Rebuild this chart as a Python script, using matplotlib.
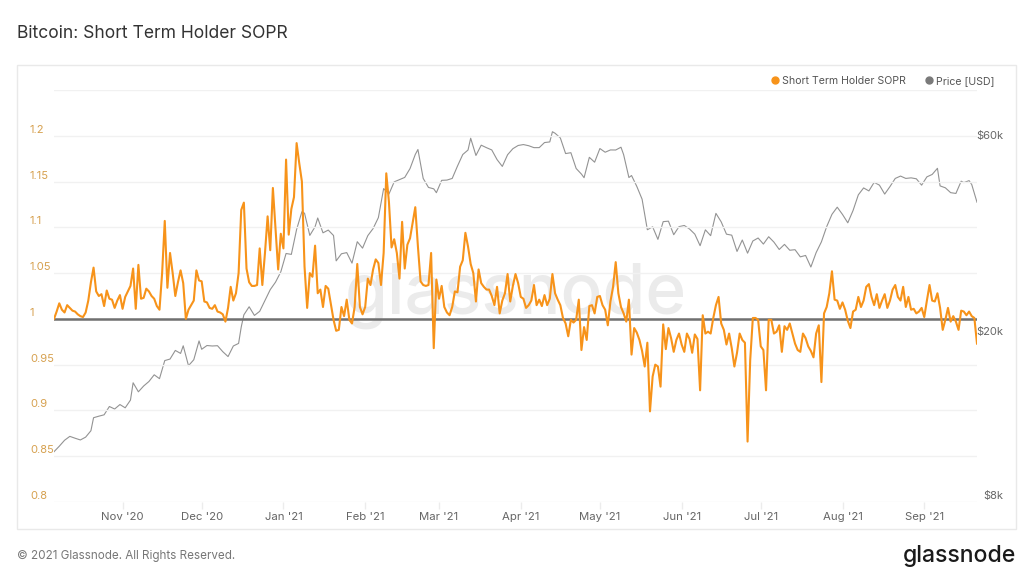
import matplotlib
matplotlib.use("Agg")
import matplotlib.pyplot as plt
import matplotlib.dates as mdates
import matplotlib.transforms as mtransforms
from matplotlib.lines import Line2D
from matplotlib.patches import Rectangle
from matplotlib.ticker import FixedLocator, NullLocator
import pandas as pd

plt.rcParams['font.family'] = ['Inter', 'DejaVu Sans']

# --- data -------------------------------------------------------------
sopr_start = '2020-10-06'
sopr = [
    1.000, 1.008, 1.017, 1.010, 1.007, 1.015, 1.012, 1.009, 1.008, 1.005,
    1.003, 1.002, 1.007, 1.020, 1.040, 1.056, 1.030, 1.025, 1.027, 1.014,
    1.031, 1.022, 1.021, 1.012, 1.020, 1.026, 1.011, 1.024, 1.030, 1.036,
    1.055, 1.011, 1.059, 1.022, 1.023, 1.033, 1.030, 1.025, 1.022, 1.014,
    1.010, 1.050, 1.107, 1.034, 1.072, 1.050, 1.025, 1.040, 1.053, 1.039,
    1.000, 1.010, 1.015, 1.020, 1.053, 1.042, 1.041, 1.019, 1.018, 1.012,
    1.011, 1.015, 1.008, 1.007, 1.005, 0.997, 1.012, 1.035, 1.020, 1.028,
    1.050, 1.119, 1.127, 1.055, 1.040, 1.036, 1.036, 1.037, 1.077, 1.037,
    1.072, 1.112, 1.075, 1.143, 1.098, 1.054, 1.093, 1.077, 1.174, 1.092,
    1.120, 1.133, 1.192, 1.170, 1.150, 1.057, 1.012, 1.050, 1.046, 1.080,
    1.028, 1.032, 1.013, 1.036, 1.033, 1.016, 0.999, 0.987, 0.988, 1.013,
    1.003, 1.021, 0.999, 0.995, 1.013, 1.060, 1.013, 1.005, 1.013, 1.044,
    1.037, 1.054, 1.065, 1.061, 1.037, 1.072, 1.159, 1.128, 1.078, 1.087,
    1.072, 1.044, 1.106, 1.055, 1.081, 1.088, 1.105, 1.122, 1.079, 1.041,
    1.037, 1.036, 1.037, 1.072, 0.968, 1.043, 1.022, 1.036, 1.013, 1.007,
    1.004, 1.013, 1.030, 1.029, 1.057, 1.064, 1.094, 1.079, 1.060, 1.050,
    1.019, 1.054, 1.039, 1.035, 1.032, 1.032, 1.025, 1.015, 1.035, 1.006,
    1.020, 1.028, 1.049, 1.019, 1.036, 1.049, 1.039, 1.024, 1.022, 1.012,
    1.015, 1.020, 1.037, 1.015, 1.021, 1.014, 1.026, 1.015, 1.022, 1.049,
    1.028, 1.021, 1.015, 1.001, 0.995, 0.981, 0.999, 0.996, 0.999, 1.021,
    0.966, 0.991, 0.977, 1.014, 1.015, 1.006, 1.024, 1.025, 1.015, 1.010,
    0.993, 1.019, 1.035, 1.062, 1.028, 1.013, 1.006, 0.997, 1.021, 0.961,
    0.990, 0.985, 0.977, 0.965, 0.948, 0.974, 0.899, 0.937, 0.950, 0.948,
    0.926, 0.994, 0.967, 0.990, 0.979, 0.964, 0.977, 0.984, 0.972, 0.964,
    0.984, 0.978, 0.963, 0.983, 0.978, 0.922, 1.004, 0.984, 0.986, 0.984,
    1.001, 1.015, 1.024, 0.995, 0.988, 0.972, 0.984, 0.968, 0.948, 0.963,
    0.984, 0.977, 0.974, 0.866, 0.955, 1.001, 1.001, 0.999, 0.970, 0.966,
    0.922, 0.999, 0.999, 0.984, 0.986, 0.993, 0.964, 0.992, 0.988, 0.995,
    0.984, 0.973, 0.966, 0.964, 0.984, 0.979, 0.970, 0.965, 0.958, 0.984,
    0.993, 0.931, 1.006, 1.013, 1.028, 1.052, 1.021, 1.020, 1.011, 1.018,
    1.010, 0.998, 0.990, 1.008, 1.010, 1.024, 1.013, 1.020, 1.035, 1.038,
    1.024, 1.015, 1.027, 1.012, 1.020, 1.027, 1.012, 1.020, 1.032, 1.037,
    1.024, 1.020, 1.035, 1.013, 1.024, 1.010, 1.011, 1.006, 1.008, 1.012,
    1.002, 1.020, 1.037, 1.020, 1.019, 1.028, 1.012, 0.988, 0.999, 1.012,
    0.997, 1.003, 0.997, 0.988, 1.009, 1.008, 1.004, 1.008, 1.003, 1.001,
    0.973,
]

price_dates = [
    '2020-10-06', '2020-10-08', '2020-10-10', '2020-10-12', '2020-10-14',
    '2020-10-16', '2020-10-18', '2020-10-20', '2020-10-21', '2020-10-23',
    '2020-10-25', '2020-10-27', '2020-10-29', '2020-10-31', '2020-11-02',
    '2020-11-04', '2020-11-05', '2020-11-07', '2020-11-09', '2020-11-11',
    '2020-11-13', '2020-11-15', '2020-11-17', '2020-11-19', '2020-11-21',
    '2020-11-23', '2020-11-24', '2020-11-26', '2020-11-28', '2020-11-30',
    '2020-12-01', '2020-12-03', '2020-12-05', '2020-12-07', '2020-12-09',
    '2020-12-11', '2020-12-13', '2020-12-15', '2020-12-16', '2020-12-17',
    '2020-12-19', '2020-12-21', '2020-12-23', '2020-12-25', '2020-12-27',
    '2020-12-29', '2020-12-31', '2021-01-02', '2021-01-04', '2021-01-06',
    '2021-01-08', '2021-01-09', '2021-01-11', '2021-01-13', '2021-01-14',
    '2021-01-16', '2021-01-18', '2021-01-20', '2021-01-21', '2021-01-23',
    '2021-01-25', '2021-01-27', '2021-01-29', '2021-01-31', '2021-02-02',
    '2021-02-04', '2021-02-06', '2021-02-08', '2021-02-10', '2021-02-12',
    '2021-02-14', '2021-02-16', '2021-02-18', '2021-02-20', '2021-02-21',
    '2021-02-23', '2021-02-25', '2021-02-27', '2021-02-28', '2021-03-02',
    '2021-03-04', '2021-03-06', '2021-03-08', '2021-03-10', '2021-03-12',
    '2021-03-13', '2021-03-15', '2021-03-17', '2021-03-19', '2021-03-21',
    '2021-03-23', '2021-03-25', '2021-03-27', '2021-03-29', '2021-03-31',
    '2021-04-02', '2021-04-04', '2021-04-06', '2021-04-08', '2021-04-10',
    '2021-04-12', '2021-04-13', '2021-04-14', '2021-04-16', '2021-04-18',
    '2021-04-20', '2021-04-22', '2021-04-24', '2021-04-25', '2021-04-27',
    '2021-04-29', '2021-05-01', '2021-05-03', '2021-05-05', '2021-05-07',
    '2021-05-09', '2021-05-10', '2021-05-12', '2021-05-13', '2021-05-15',
    '2021-05-17', '2021-05-19', '2021-05-21', '2021-05-23', '2021-05-25',
    '2021-05-27', '2021-05-29', '2021-05-31', '2021-06-02', '2021-06-04',
    '2021-06-06', '2021-06-08', '2021-06-10', '2021-06-12', '2021-06-14',
    '2021-06-16', '2021-06-18', '2021-06-20', '2021-06-22', '2021-06-24',
    '2021-06-26', '2021-06-28', '2021-06-30', '2021-07-02', '2021-07-04',
    '2021-07-06', '2021-07-08', '2021-07-10', '2021-07-12', '2021-07-14',
    '2021-07-16', '2021-07-18', '2021-07-20', '2021-07-22', '2021-07-24',
    '2021-07-26', '2021-07-28', '2021-07-30', '2021-08-01', '2021-08-03',
    '2021-08-05', '2021-08-07', '2021-08-09', '2021-08-11', '2021-08-13',
    '2021-08-15', '2021-08-17', '2021-08-19', '2021-08-21', '2021-08-23',
    '2021-08-25', '2021-08-27', '2021-08-29', '2021-08-31', '2021-09-02',
    '2021-09-04', '2021-09-06', '2021-09-07', '2021-09-09', '2021-09-11',
    '2021-09-13', '2021-09-15', '2021-09-16', '2021-09-18', '2021-09-19',
    '2021-09-21',
]
price_usd = [
    10600, 10930, 11300, 11550, 11430, 11320, 11500, 11920, 12820, 12930,
    13030, 13650, 13460, 13800, 13550, 14150, 15590, 14820, 15310, 15700,
    16300, 15950, 17650, 17800, 18680, 18370, 19170, 17150, 17730, 19700,
    18800, 19200, 19150, 19180, 18550, 18050, 19150, 19430, 21300, 22800,
    23850, 22720, 23250, 24700, 26250, 27370, 28990, 32130, 31970, 36770,
    40580, 40250, 35550, 37320, 39190, 36070, 36630, 35530, 30830, 32080,
    32290, 30440, 34320, 33110, 35510, 36940, 39270, 46200, 44800, 47970,
    48580, 49180, 51670, 55920, 57490, 48900, 46500, 46130, 45150, 48380,
    48450, 48900, 52400, 55900, 57330, 61240, 55600, 58900, 58080, 57350,
    54340, 52300, 55830, 57750, 58800, 59100, 58720, 58090, 58100, 59770,
    59980, 63500, 62970, 61340, 56200, 56470, 51700, 50100, 49100, 55030,
    53550, 57800, 56620, 57350, 57330, 58230, 55860, 49150, 49700, 46760,
    43540, 36700, 37300, 34770, 38400, 38500, 35690, 37340, 37580, 36850,
    35800, 33560, 36680, 35500, 40220, 38350, 35800, 35600, 32500, 34650,
    32190, 34460, 35040, 33870, 35290, 34240, 32860, 33810, 32720, 32820,
    31530, 31780, 29790, 32290, 34290, 37340, 40000, 41630, 39970, 38150,
    40870, 44610, 46370, 45600, 47830, 47100, 44800, 46720, 48900, 49550,
    48900, 49060, 48800, 47100, 49330, 50000, 51750, 46900, 46400, 45160,
    44960, 48150, 47770, 48300, 47260, 42800,
]

sopr_ticks = [0.8, 0.85, 0.9, 0.95, 1.0, 1.05, 1.1, 1.15, 1.2, 1.25]
sopr_tick_labels = ['0.8', '0.85', '0.9', '0.95', '1', '1.05', '1.1', '1.15', '1.2', '']
price_ticks = [8000, 20000, 60000]
price_tick_labels = ['$8k', '$20k', '$60k']

ORANGE = '#f7931a'
GREY = '#939393'

sopr_dates = pd.date_range(sopr_start, periods=len(sopr), freq='D')
price_dt = pd.to_datetime(price_dates)

# --- figure -----------------------------------------------------------
W, H = 1024, 572
fig = plt.figure(figsize=(W / 100, H / 100), dpi=100)
fig.patch.set_facecolor('white')

# card border
fig.add_artist(Rectangle((17 / W, 1 - 529 / H), 999 / W, 464 / H,
                         transform=fig.transFigure, fill=False,
                         edgecolor='#e9e9e9', linewidth=1.0))

ax = fig.add_axes([54 / W, 1 - 502 / H, 923 / W, 412 / H])
ax2 = ax.twinx()

# price on the log axis (right), SOPR on the linear axis (left)
ax.plot(price_dt, price_usd, color=GREY, linewidth=0.8, zorder=2)
ax.set_yscale('log')
ax.set_ylim(8000, 80200)
ax.yaxis.set_major_locator(FixedLocator(price_ticks))
ax.yaxis.set_minor_locator(NullLocator())
ax.tick_params(axis='y', which='both', left=False, right=False,
               labelleft=False, labelright=False)

ax.text(0.5, 0.5, 'glassnode', transform=ax.transAxes, ha='center', va='center',
        fontsize=50, color='#ebebeb', fontweight='medium', zorder=0)

ax2.axhline(1.0, color='#707070', linewidth=1.8, zorder=3)
ax2.plot(sopr_dates, sopr, color=ORANGE, linewidth=1.5, zorder=4)
ax2.set_ylim(0.8, 1.25)
ax2.yaxis.set_major_locator(FixedLocator(sopr_ticks))
ax2.tick_params(axis='y', which='both', left=False, right=False,
                labelleft=False, labelright=False)
ax2.yaxis.grid(True, color='#f1f1f1', linewidth=1.0)
ax2.set_axisbelow(True)

ax.set_xlim(sopr_dates[0], sopr_dates[-1])
ax.xaxis.set_major_locator(mdates.MonthLocator())
ax.xaxis.set_major_formatter(mdates.DateFormatter("%b '%y"))
ax.tick_params(axis='x', length=5, width=1, color='#ececec',
               labelcolor='#666666', labelsize=8.2, pad=2)

for a in (ax, ax2):
    for s in a.spines.values():
        s.set_visible(False)
    a.patch.set_visible(False)

# y labels sit just above their gridlines
up = mtransforms.ScaledTranslation(0, 6 / 100, fig.dpi_scale_trans)
left_tr = mtransforms.blended_transform_factory(fig.transFigure, ax2.transData) + up
right_tr = mtransforms.blended_transform_factory(fig.transFigure, ax.transData) + up
for v, lab in zip(sopr_ticks, sopr_tick_labels):
    fig.text(30 / W, v, lab, transform=left_tr, ha='left', va='center',
             fontsize=8, color='#d6a04e')
for v, lab in zip(price_ticks, price_tick_labels):
    fig.text(1003 / W, v, lab, transform=right_tr, ha='right', va='center',
             fontsize=8, color='#666666')

# legend
handles = [Line2D([], [], marker='o', linestyle='none', markersize=5,
                  markerfacecolor=ORANGE, markeredgecolor=ORANGE),
           Line2D([], [], marker='o', linestyle='none', markersize=5,
                  markerfacecolor='#7a7a7a', markeredgecolor='#7a7a7a')]
leg = fig.legend(handles, ['Short Term Holder SOPR', 'Price [USD]'],
                 loc='center right', bbox_to_anchor=(1000 / W, 1 - 81 / H),
                 ncol=2, frameon=False, fontsize=7.6, handlelength=0.7,
                 handletextpad=0.3, columnspacing=1.9, borderpad=0)
for t in leg.get_texts():
    t.set_color('#555555')

# titles and footer
fig.text(17 / W, 1 - 33 / H, 'Bitcoin: Short Term Holder SOPR', ha='left',
         va='center', fontsize=12.6, color='#333333')
fig.text(17 / W, 1 - 556 / H, '\u00a9 2021 Glassnode. All Rights Reserved.',
         ha='left', va='center', fontsize=8.4, color='#777777')
fig.text(1016 / W, 1 - 556 / H, 'glassnode', ha='right', va='center',
         fontsize=16.5, color='#1a1a1a', fontweight='medium')

fig.savefig('out.png', dpi=100)
